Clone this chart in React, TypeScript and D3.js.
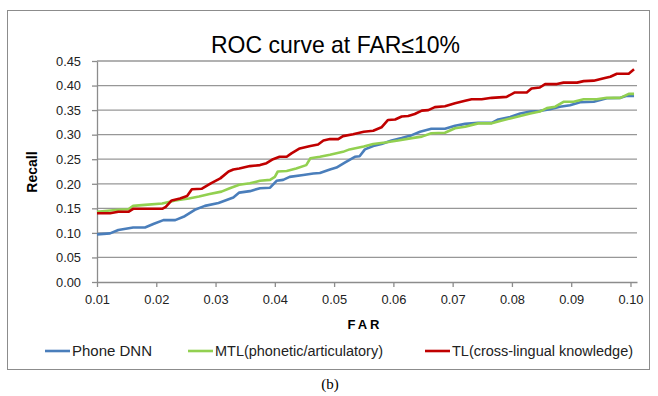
import { useEffect, useRef } from 'react';
import * as d3 from 'd3';

// [FAR, recall] pairs
const phoneDnn: [number, number][] = [
  [0.010, 0.097], [0.0122, 0.099], [0.0136, 0.106], [0.0161, 0.111], [0.0181, 0.111],
  [0.0195, 0.118], [0.0212, 0.126], [0.0232, 0.126], [0.0248, 0.134], [0.0265, 0.147],
  [0.0282, 0.155], [0.0305, 0.161], [0.033, 0.172], [0.034, 0.182], [0.0358, 0.185],
  [0.0375, 0.191], [0.0392, 0.192], [0.0403, 0.206], [0.0414, 0.208], [0.0425, 0.214],
  [0.0448, 0.218], [0.0465, 0.221], [0.0476, 0.222], [0.0493, 0.229], [0.0504, 0.233],
  [0.0518, 0.243], [0.0535, 0.255], [0.0543, 0.256], [0.0552, 0.270], [0.0566, 0.277],
  [0.058, 0.281], [0.0597, 0.288], [0.0614, 0.293], [0.0631, 0.299], [0.0645, 0.306],
  [0.0664, 0.312], [0.0687, 0.312], [0.0704, 0.318], [0.0721, 0.322], [0.0743, 0.324],
  [0.0766, 0.324], [0.0777, 0.331], [0.0797, 0.336], [0.0814, 0.343], [0.0831, 0.347],
  [0.0847, 0.348], [0.0864, 0.352], [0.0881, 0.357], [0.0898, 0.360], [0.0915, 0.366],
  [0.0938, 0.367], [0.096, 0.374], [0.0983, 0.375], [0.0994, 0.379], [0.1006, 0.379],
];

const mtl: [number, number][] = [
  [0.010, 0.143], [0.0136, 0.147], [0.0153, 0.148], [0.0161, 0.155], [0.0181, 0.157],
  [0.021, 0.160], [0.0232, 0.166], [0.0255, 0.170], [0.0272, 0.174], [0.029, 0.179],
  [0.031, 0.184], [0.0324, 0.191], [0.034, 0.198], [0.0358, 0.201], [0.0375, 0.206],
  [0.0392, 0.208], [0.040, 0.214], [0.0405, 0.225], [0.042, 0.226], [0.0436, 0.231],
  [0.0453, 0.238], [0.046, 0.252], [0.0476, 0.255], [0.0493, 0.259], [0.0515, 0.265],
  [0.0526, 0.270], [0.055, 0.276], [0.0566, 0.281], [0.0586, 0.284], [0.0608, 0.288],
  [0.0631, 0.293], [0.0648, 0.296], [0.0664, 0.303], [0.0687, 0.304], [0.0704, 0.313],
  [0.0721, 0.316], [0.0743, 0.323], [0.0766, 0.323], [0.078, 0.328], [0.0797, 0.333],
  [0.0814, 0.338], [0.0831, 0.343], [0.0847, 0.347], [0.0859, 0.354], [0.0873, 0.357],
  [0.0887, 0.367], [0.0904, 0.367], [0.0921, 0.372], [0.0943, 0.372], [0.096, 0.375],
  [0.0983, 0.375], [0.0997, 0.383], [0.1006, 0.383],
];

const tl: [number, number][] = [
  [0.010, 0.140], [0.0122, 0.140], [0.0136, 0.143], [0.0153, 0.143], [0.0161, 0.149],
  [0.021, 0.149], [0.0216, 0.153], [0.0226, 0.166], [0.024, 0.170], [0.0252, 0.175],
  [0.026, 0.189], [0.0277, 0.190], [0.0292, 0.201], [0.0308, 0.211], [0.0322, 0.225],
  [0.033, 0.229], [0.034, 0.231], [0.0358, 0.236], [0.0375, 0.238], [0.0386, 0.242],
  [0.0397, 0.250], [0.0408, 0.255], [0.042, 0.255], [0.0428, 0.262], [0.0442, 0.272],
  [0.046, 0.277], [0.0473, 0.280], [0.0482, 0.288], [0.0493, 0.291], [0.0507, 0.291],
  [0.0515, 0.297], [0.0532, 0.301], [0.055, 0.306], [0.0566, 0.308], [0.058, 0.315],
  [0.0591, 0.330], [0.0603, 0.331], [0.0614, 0.337], [0.0625, 0.338], [0.0636, 0.342],
  [0.0648, 0.349], [0.0659, 0.350], [0.067, 0.356], [0.0687, 0.358], [0.0704, 0.364],
  [0.0721, 0.369], [0.0732, 0.372], [0.0749, 0.372], [0.0766, 0.375], [0.0791, 0.377],
  [0.0805, 0.386], [0.0825, 0.386], [0.0833, 0.394], [0.0847, 0.396], [0.0856, 0.403],
  [0.0876, 0.403], [0.0887, 0.406], [0.091, 0.406], [0.0921, 0.409], [0.0938, 0.410],
  [0.0955, 0.415], [0.0966, 0.418], [0.0977, 0.424], [0.0997, 0.424], [0.1006, 0.433],
];

const seriesNames = ['Phone DNN', 'MTL(phonetic/articulatory)', 'TL(cross-lingual knowledge)'];
const seriesColors = ['#4a7ebb', '#92d050', '#c00000'];
const xTicks = [0.01, 0.02, 0.03, 0.04, 0.05, 0.06, 0.07, 0.08, 0.09, 0.1];
const yTicks = [0, 0.05, 0.1, 0.15, 0.2, 0.25, 0.3, 0.35, 0.4, 0.45];

const FONT = "'Liberation Sans', Arial, sans-serif";

const App = () => {
  const ref = useRef<SVGSVGElement>(null);

  useEffect(() => {
    const width = 658;
    const height = 396;
    const svg = d3.select(ref.current);
    svg.selectAll('*').remove();
    svg.attr('width', width).attr('height', height)
      .style('position', 'absolute').style('left', '0px').style('top', '0px');

    const x = d3.scaleLinear().domain([0.01, 0.1011]).range([97, 637]);
    const y = d3.scaleLinear().domain([0, 0.45]).range([282, 61]);

    svg.append('rect').attr('width', width).attr('height', height).attr('fill', 'white');

    // outer chart border
    svg.append('rect')
      .attr('x', 7.5).attr('y', 10.5).attr('width', 642).attr('height', 359)
      .attr('fill', 'white').attr('stroke', '#8c8c8c').attr('stroke-width', 1);

    svg.append('text')
      .attr('x', 211).attr('y', 53)
      .attr('font-family', FONT).attr('font-size', 24)
      .attr('textLength', 249).attr('lengthAdjust', 'spacingAndGlyphs')
      .text('ROC curve at FAR≤10%');

    // gridlines
    svg.append('g').selectAll('line').data(yTicks.slice(1)).enter().append('line')
      .attr('x1', 97).attr('x2', 637)
      .attr('y1', (d) => y(d)).attr('y2', (d) => y(d))
      .attr('stroke', '#979797').attr('stroke-width', 1.3);

    const xAxis = svg.append('g').attr('transform', 'translate(0,282)')
      .call(d3.axisBottom(x).tickValues(xTicks).tickFormat(d3.format('.2f')).tickSize(5).tickSizeOuter(0));
    const yAxis = svg.append('g').attr('transform', 'translate(97,0)')
      .call(d3.axisLeft(y).tickValues(yTicks).tickFormat(d3.format('.2f')).tickSize(5).tickSizeOuter(0));

    [xAxis, yAxis].forEach((g) => {
      g.select('.domain').attr('stroke', '#8c8c8c').attr('stroke-width', 1.3);
      g.selectAll('.tick line').attr('stroke', '#8c8c8c').attr('stroke-width', 1.3);
      g.selectAll('.tick text')
        .attr('font-family', FONT).attr('font-size', 13.5).attr('fill', '#222')
        .attr('textLength', 25).attr('lengthAdjust', 'spacingAndGlyphs');
    });
    xAxis.selectAll('.tick text').attr('dy', '0.95em').attr('y', 9);
    yAxis.selectAll('.tick text').attr('x', -16);

    svg.append('text')
      .attr('x', 365).attr('y', 329)
      .attr('text-anchor', 'middle')
      .attr('font-family', FONT).attr('font-size', 13).attr('font-weight', 'bold')
      .attr('letter-spacing', 3)
      .text('FAR');

    svg.append('text')
      .attr('transform', 'translate(37,172) rotate(-90)')
      .attr('text-anchor', 'middle')
      .attr('font-family', FONT).attr('font-size', 14).attr('font-weight', 'bold')
      .text('Recall');

    const line = d3.line<[number, number]>()
      .x((d) => x(d[0]))
      .y((d) => y(d[1]));

    [phoneDnn, mtl, tl].forEach((data, i) => {
      svg.append('path')
        .datum(data)
        .attr('d', line)
        .attr('fill', 'none')
        .attr('stroke', seriesColors[i])
        .attr('stroke-width', 2.6)
        .attr('stroke-linejoin', 'round');
    });

    // legend
    const legendX = [45, 188, 425];
    const legendW = [80, 168, 181];
    const legend = svg.append('g');
    seriesNames.forEach((name, i) => {
      legend.append('line')
        .attr('x1', legendX[i]).attr('x2', legendX[i] + 25)
        .attr('y1', 351).attr('y2', 351)
        .attr('stroke', seriesColors[i]).attr('stroke-width', 2.6);
      legend.append('text')
        .attr('x', legendX[i] + 27).attr('y', 356)
        .attr('font-family', FONT).attr('font-size', 14).attr('fill', '#222')
        .attr('textLength', legendW[i]).attr('lengthAdjust', 'spacingAndGlyphs')
        .text(name);
    });

    svg.append('text')
      .attr('x', 330).attr('y', 389)
      .attr('text-anchor', 'middle')
      .attr('font-family', "'Liberation Serif', 'Times New Roman', serif").attr('font-size', 15)
      .text('(b)');
  }, []);

  return <svg ref={ref}></svg>;
};

export default App;
